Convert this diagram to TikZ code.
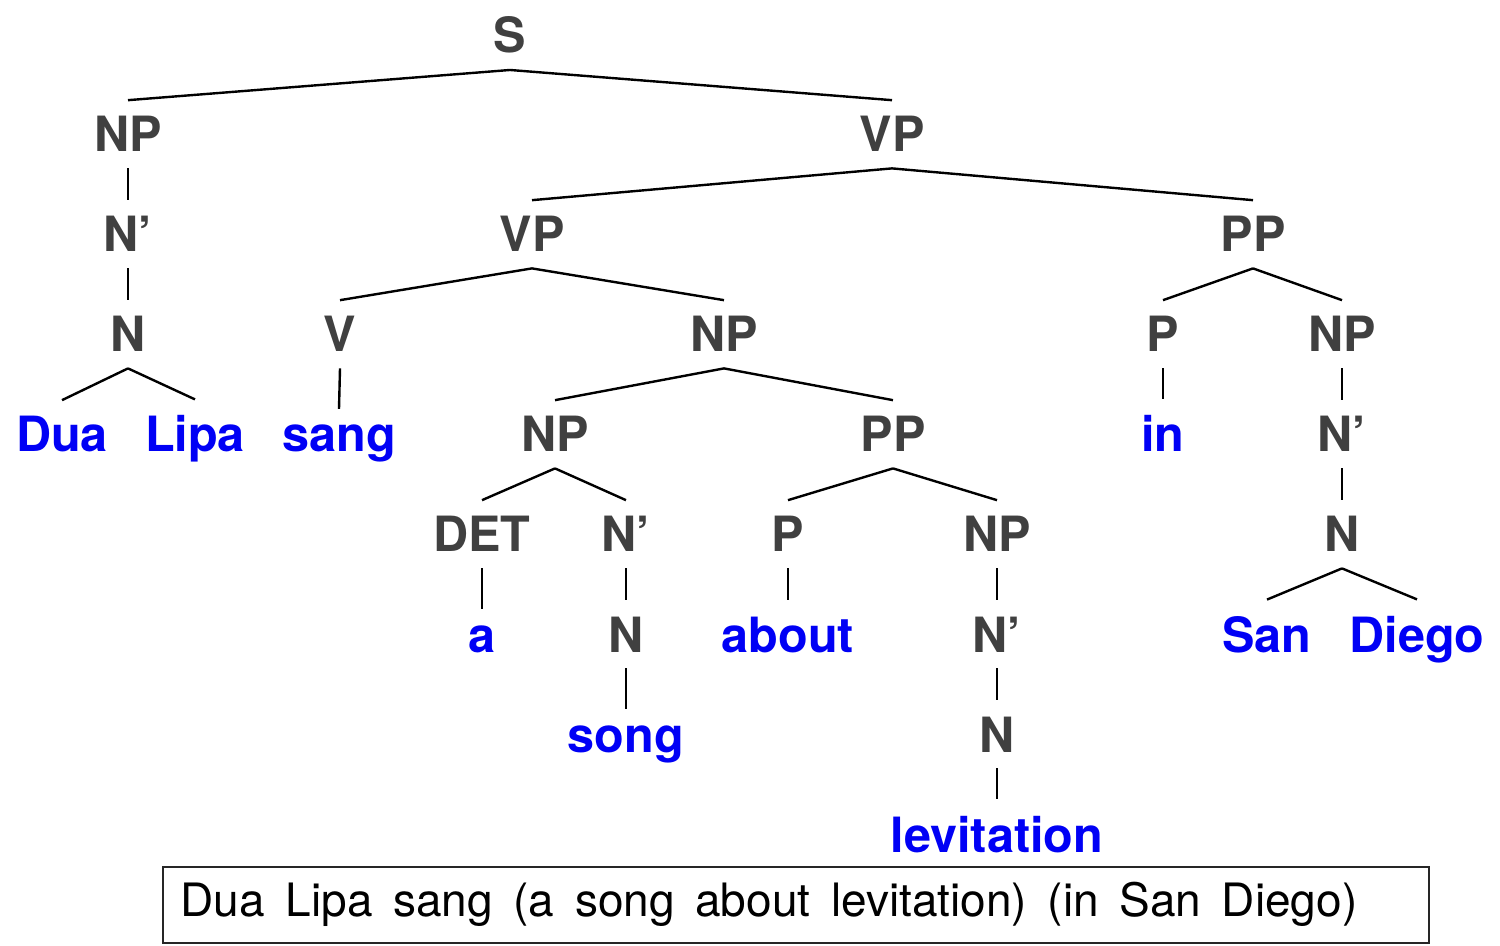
\documentclass[tikz,border=0pt]{standalone}
\usepackage{fontspec}
\setmainfont{TeX Gyre Heros}
\definecolor{labgray}{RGB}{64,64,64}
\definecolor{wordblue}{RGB}{0,0,245}
\newcommand\capspacing{\spaceskip=10.3pt\relax}
\begin{document}
\begin{tikzpicture}[x=0.5pt,y=-0.5pt,
  lab/.style={font=\bfseries\fontsize{24.3}{28}\selectfont, text=labgray, anchor=base, inner xsep=0pt, inner ysep=8pt},
  word/.style={lab, text=wordblue},
  branch/.style={line width=1.2pt, black},
  capbox/.style={draw=black!85, line width=0.75pt, anchor=base west, inner xsep=9pt, inner ysep=0pt,
    text width=615pt, align=left, text height=24.5pt, text depth=13.5pt,
    font=\fontsize{23}{27}\selectfont}]
\useasboundingbox (0,0) rectangle (1500,946);
% row 0
\node[lab] (S) at (510,53) {S};
% row 1
\node[lab] (NPa) at (128,152) {NP};
\node[lab] (VPa) at (892,152) {VP};
% row 2
\node[lab] (Nba) at (128,252) {N’};
\node[lab] (VPb) at (532,252) {VP};
\node[lab] (PPa) at (1253,252) {PP};
% row 3
\node[lab] (Na) at (128,352) {N};
\node[lab] (V) at (340,352) {V};
\node[lab] (NPb) at (724,352) {NP};
\node[lab] (Pa) at (1163,352) {P};
\node[lab] (NPc) at (1342,352) {NP};
% row 4
\node[word] (Dua) at (62,452) {Dua};
\node[word] (Lipa) at (195,452) {Lipa};
\node[word] (sang) at (339,452) {sang};
\node[lab] (NPd) at (555,452) {NP};
\node[lab] (PPb) at (893,452) {PP};
\node[word] (in) at (1163,452) {in};
\node[lab] (Nbc) at (1342,452) {N’};
% row 5
\node[lab] (DET) at (482,552) {DET};
\node[lab] (Nbd) at (626,552) {N’};
\node[lab] (Pb) at (788,552) {P};
\node[lab] (NPe) at (997,552) {NP};
\node[lab] (Nc) at (1342,552) {N};
% row 6
\node[word] (a) at (482,652) {a};
\node[lab] (Nd) at (626,652) {N};
\node[word] (about) at (788,652) {about};
\node[lab] (Nbe) at (997,652) {N’};
\node[word] (San) at (1267,652) {San};
\node[word] (Diego) at (1417,652) {Diego};
% row 7
\node[word] (song) at (626,752) {song};
\node[lab] (Ne) at (997,752) {N};
% row 8
\node[word] (lev) at (997,852) {levitation};
% caption box
\node[capbox] (cap) at (162,916) {\capspacing Dua Lipa sang (a song about levitation) (in San Diego)};
% branches
\foreach \p/\c in {S/NPa, S/VPa, NPa/Nba, Nba/Na, Na/Dua, Na/Lipa,
  VPa/VPb, VPa/PPa, VPb/V, VPb/NPb, V/sang, NPb/NPd, NPb/PPb,
  NPd/DET, NPd/Nbd, DET/a, Nbd/Nd, Nd/song, PPb/Pb, PPb/NPe, Pb/about,
  NPe/Nbe, Nbe/Ne, Ne/lev, PPa/Pa, PPa/NPc, Pa/in, NPc/Nbc, Nbc/Nc,
  Nc/San, Nc/Diego}
  \draw[branch] (\p.south) -- (\c.north);
\end{tikzpicture}
\end{document}
